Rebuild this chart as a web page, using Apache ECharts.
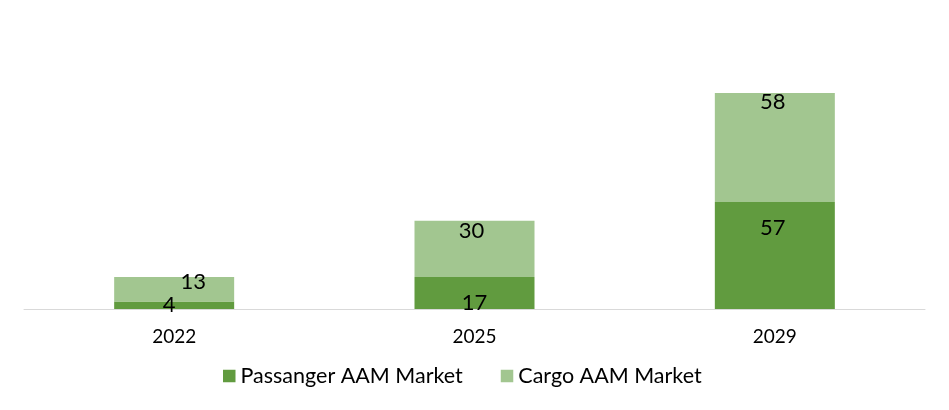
<!DOCTYPE html>
<html><head><meta charset="utf-8">
<script src="https://cdn.jsdelivr.net/npm/echarts@6/dist/echarts.min.js"></script>
<style>html,body{margin:0;padding:0;background:#fff}#c{width:949px;height:410px}</style>
</head><body><div id="c"></div>
<script>
const categories = ['2022', '2025', '2029'];
const passengerValues = [4, 17, 57];
const cargoValues = [13, 30, 58];
const seriesNames = ['Passanger AAM Market', 'Cargo AAM Market'];

const FONT = 'Lato';
const passOffsets = [[-5, -13], [0, 10], [-2, 10]];
const cargoOffsets = [[19, -11], [-3, -6], [-2, -7]];

function mk(vals, offs) {
  return vals.map((v, i) => ({ value: v, label: { offset: offs[i] } }));
}

const chart = echarts.init(document.getElementById('c'));
chart.setOption({
  animation: false,
  textStyle: { fontFamily: FONT },
  grid: { left: 24, right: 24, top: 93, bottom: 101 },
  legend: {
    left: 218, top: 360, padding: 5, itemWidth: 12.5, itemHeight: 12.5, itemGap: 38, icon: 'rect',
    textStyle: { fontFamily: FONT, fontSize: 21.5, color: '#000' }
  },
  xAxis: {
    type: 'category', data: categories,
    axisLine: { lineStyle: { color: '#d9d9d9', width: 1 } },
    axisTick: { show: false },
    axisLabel: { fontFamily: FONT, fontSize: 19, color: '#000', margin: 18 }
  },
  yAxis: { type: 'value', min: 0, max: 115, show: false, splitLine: { show: false } },
  series: [
    {
      name: seriesNames[0], type: 'bar', stack: 't', barWidth: 120,
      itemStyle: { color: '#619b3f' },
      label: { show: true, position: 'insideTop', color: '#000', fontFamily: FONT, fontSize: 22 },
      data: mk(passengerValues, passOffsets)
    },
    {
      name: seriesNames[1], type: 'bar', stack: 't', barWidth: 120,
      itemStyle: { color: '#a2c690' },
      label: { show: true, position: 'insideTop', color: '#000', fontFamily: FONT, fontSize: 22 },
      data: mk(cargoValues, cargoOffsets)
    }
  ]
});
</script></body></html>
